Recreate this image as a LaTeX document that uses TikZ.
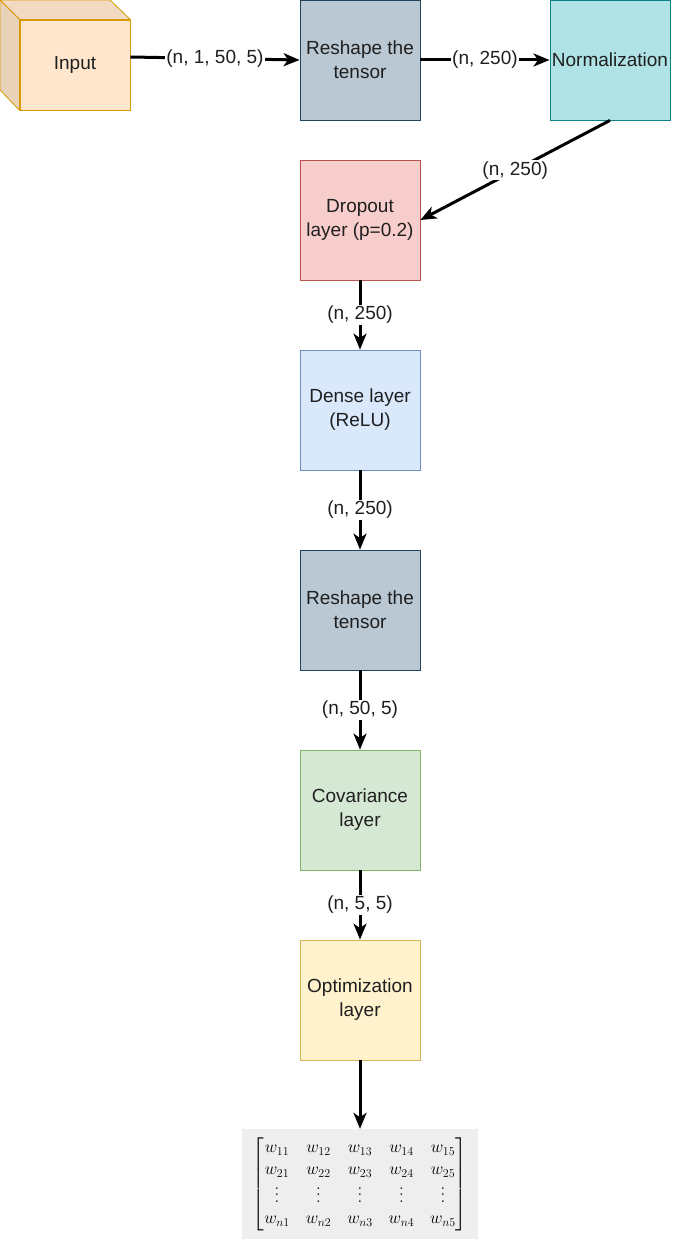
\documentclass[tikz,border=0pt]{standalone}
\usepackage{fontspec}
\setmainfont{Liberation Sans}
\usepackage{amsmath}
\usetikzlibrary{arrows.meta}

\definecolor{inpfill}{HTML}{FFE6CC}
\definecolor{inptop}{HTML}{F2DAC2}
\definecolor{inpside}{HTML}{E8D2B8}
\definecolor{inpline}{HTML}{D79B00}
\definecolor{rsfill}{HTML}{BAC8D3}
\definecolor{rsline}{HTML}{23445D}
\definecolor{normfill}{HTML}{B0E3E6}
\definecolor{normline}{HTML}{0E8088}
\definecolor{dropfill}{HTML}{F8CECC}
\definecolor{dropline}{HTML}{B85450}
\definecolor{densefill}{HTML}{DAE8FC}
\definecolor{denseline}{HTML}{6C8EBF}
\definecolor{covfill}{HTML}{D5E8D4}
\definecolor{covline}{HTML}{82B366}
\definecolor{optfill}{HTML}{FFF2CC}
\definecolor{optline}{HTML}{D6B656}
\definecolor{matfill}{HTML}{EEEEEE}

% small vertical dots, centred on the math axis
\newcommand{\wdots}{\vcenter{\baselineskip=6.5pt\lineskiplimit=0pt\hbox{$.$}\hbox{$.$}\hbox{$.$}}}

\begin{document}
\begin{tikzpicture}[
  x=1pt,
  y=-1pt,
  >={Stealth[length=16pt, width=13pt, inset=4.5pt]},
  every node/.style={font=\fontsize{19}{24}\selectfont, text=black!88},
  layer/.style={draw, line width=0.8pt, minimum width=120pt, minimum height=120pt, inner sep=2pt, align=center},
  reshape/.style={layer, fill=rsfill, draw=rsline},
  norml/.style={layer, fill=normfill, draw=normline},
  dropl/.style={layer, fill=dropfill, draw=dropline},
  densel/.style={layer, fill=densefill, draw=denseline},
  covl/.style={layer, fill=covfill, draw=covline},
  optl/.style={layer, fill=optfill, draw=optline},
  conn/.style={->, line width=3pt, black},
  lbl/.style={fill=white, inner sep=1pt},
]
  \useasboundingbox (0,0) rectangle (672,1241);

  % Input cube: front face is the node, back faces drawn round it
  \node[draw=inpline, fill=inpfill, line width=0.8pt, minimum width=110pt, minimum height=90pt] (inp) at (75,65) {Input};
  \filldraw[fill=inptop, draw=inpline, line width=0.8pt, line join=round]
    (inp.north west) -- (0,0) -- (110,0) -- (inp.north east) -- cycle;
  \filldraw[fill=inpside, draw=inpline, line width=0.8pt, line join=round]
    (inp.north west) -- (0,0) -- (0,90) -- (inp.south west) -- cycle;

  % Top row
  \node[reshape] (reshA) at (360,60) {Reshape the\\tensor};
  \node[norml] (norm) at (610,60) {Normalization};

  % Main column
  \node[dropl] (drop) at (360,220) {Dropout\\layer (p=0.2)};
  \node[densel] (dense) at (360,410) {Dense layer\\(ReLU)};
  \node[reshape] (reshB) at (360,610) {Reshape the\\tensor};
  \node[covl] (cov) at (360,810) {Covariance\\layer};
  \node[optl] (optim) at (360,1000) {Optimization\\layer};

  % Output weights
  \node[fill=matfill, minimum width=236pt, minimum height=110pt, inner sep=0pt, text=black,
        font=\fontsize{18}{21.6}\selectfont] (wmat) at (360,1184)
    {\arraycolsep=8pt\def\arraystretch{1.0}%
     $\begin{bmatrix}
       w_{11} & w_{12} & w_{13} & w_{14} & w_{15}\\
       w_{21} & w_{22} & w_{23} & w_{24} & w_{25}\\[3pt]
       \wdots & \wdots & \wdots & \wdots & \wdots\\[3pt]
       w_{n1} & w_{n2} & w_{n3} & w_{n4} & w_{n5}
     \end{bmatrix}$};

  % Connectors
  \draw[conn] ([yshift=8pt]inp.east) -- (reshA.west) node[lbl, midway] {(n, 1, 50, 5)};
  \draw[conn] (reshA.east) -- (norm.west) node[lbl, midway] {(n, 250)};
  \draw[conn] (norm.south) -- (drop.east) node[lbl, midway] {(n, 250)};
  \draw[conn] (drop.south) -- (dense.north) node[lbl, midway] {(n, 250)};
  \draw[conn] (dense.south) -- (reshB.north) node[lbl, midway] {(n, 250)};
  \draw[conn] (reshB.south) -- (cov.north) node[lbl, midway] {(n, 50, 5)};
  \draw[conn] (cov.south) -- (optim.north) node[lbl, midway] {(n, 5, 5)};
  \draw[conn] (optim.south) -- (wmat.north);
\end{tikzpicture}
\end{document}
